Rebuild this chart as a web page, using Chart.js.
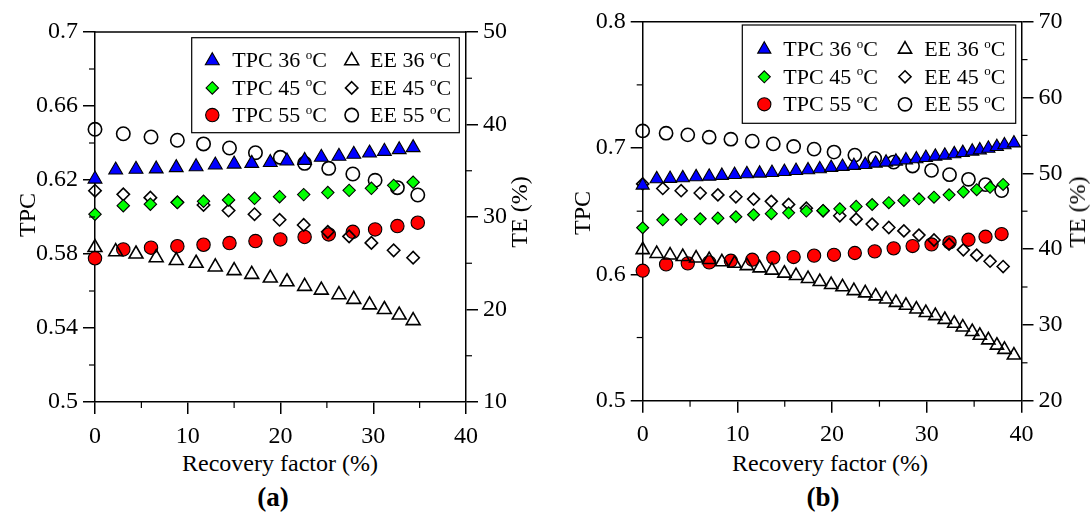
<!DOCTYPE html>
<html>
<head>
<meta charset="utf-8">
<script src="https://cdn.jsdelivr.net/npm/chart.js@4.4.1/dist/chart.umd.min.js"></script>
<style>
  html, body { margin:0; padding:0; background:#fff; }
  #wrap { position:relative; width:1091px; height:515px; overflow:hidden; font-family:"Liberation Serif","Times New Roman","Nimbus Roman",serif; color:#000; }
  canvas { position:absolute; top:0; }
  .t { position:absolute; white-space:nowrap; font-size:24px; line-height:1; transform:translate(-50%,-50%); }
  .rot { transform:translate(-50%,-50%) rotate(-90deg); }
  .lab { font-weight:bold; font-size:27px; }
</style>
</head>
<body>
<div id="wrap">
  <canvas id="ca" width="545" height="450" style="left:0px"></canvas>
  <canvas id="cb" width="546" height="450" style="left:545px"></canvas>
  <div class="t rot" style="left:27px;top:215px">TPC</div>
  <div class="t rot" style="left:519px;top:212px">TE (%)</div>
  <div class="t" style="left:280px;top:463px">Recovery factor (%)</div>
  <div class="t lab" style="left:273px;top:497px">(<span>a</span>)</div>
  <div class="t rot" style="left:582px;top:213px">TPC</div>
  <div class="t rot" style="left:1077px;top:212px">TE (%)</div>
  <div class="t" style="left:830px;top:463px">Recovery factor (%)</div>
  <div class="t lab" style="left:823px;top:497px">(<span>b</span>)</div>
</div>
<script>
// ---------------- Data: panel (a) ----------------
const xA36   = [0, 2.23, 4.42, 6.6, 8.76, 10.9, 12.97, 15.0, 16.9, 18.9, 20.7, 22.6, 24.4, 26.3, 27.9, 29.6, 31.2, 32.8, 34.3];
const tpcA36 = [0.6205, 0.6254, 0.6258, 0.626, 0.6267, 0.6272, 0.6281, 0.6286, 0.629, 0.6295, 0.6303, 0.6306, 0.6323, 0.6328, 0.6339, 0.6346, 0.6355, 0.6364, 0.6375];
const eeA36  = [26.7, 26.25, 26.0, 25.6, 25.3, 25.0, 24.6, 24.2, 23.8, 23.4, 23.0, 22.5, 22.1, 21.6, 21.1, 20.5, 20.0, 19.4, 18.8];
const xA45   = [0, 3.05, 5.97, 8.88, 11.7, 14.4, 17.2, 19.9, 22.5, 25.1, 27.4, 29.8, 32.2, 34.3];
const tpcA45 = [0.6015, 0.6061, 0.6069, 0.6079, 0.6085, 0.6092, 0.6101, 0.611, 0.6121, 0.6132, 0.6144, 0.6155, 0.6171, 0.6188];
const eeA45  = [32.84, 32.45, 32.09, 31.59, 31.3, 30.7, 30.3, 29.7, 29.14, 28.4, 27.9, 27.2, 26.4, 25.6];
const xA55   = [0, 3.05, 6.04, 8.88, 11.7, 14.5, 17.3, 19.98, 22.6, 25.2, 27.8, 30.2, 32.6, 34.8];
const tpcA55 = [0.5777, 0.5825, 0.5834, 0.5842, 0.585, 0.5859, 0.587, 0.5879, 0.5892, 0.5906, 0.592, 0.5933, 0.5951, 0.5969];
const eeA55  = [39.48, 39.0, 38.65, 38.3, 37.9, 37.46, 36.95, 36.45, 35.8, 35.26, 34.65, 33.97, 33.17, 32.38];

// ---------------- Data: panel (b) ----------------
const xB36   = [0, 1.48, 2.89, 4.23, 5.64, 7.02, 8.36, 9.7, 11.0, 12.35, 13.65, 14.96, 16.19, 17.46, 18.7, 19.9, 21.1, 22.3, 23.5, 24.6, 25.7, 26.74, 27.8, 28.9, 29.9, 30.9, 31.9, 32.9, 33.8, 34.8, 35.6, 36.5, 37.4, 38.2, 39.2];
const tpcB36 = [0.6705, 0.6755, 0.6758, 0.6763, 0.6771, 0.6776, 0.6782, 0.6789, 0.6795, 0.68, 0.6805, 0.6813, 0.6821, 0.6826, 0.6834, 0.6845, 0.6853, 0.6861, 0.6868, 0.6879, 0.6887, 0.6895, 0.6905, 0.6913, 0.6924, 0.6934, 0.6942, 0.6953, 0.6963, 0.6974, 0.6984, 0.6997, 0.701, 0.7024, 0.7039];
const eeB36  = [39.9, 39.4, 39.2, 39.0, 38.8, 38.6, 38.3, 38.1, 37.8, 37.5, 37.2, 36.8, 36.5, 36.1, 35.7, 35.3, 35.0, 34.5, 34.2, 33.8, 33.4, 32.95, 32.56, 32.07, 31.6, 31.2, 30.7, 30.2, 29.7, 29.1, 28.6, 28.0, 27.3, 26.75, 26.0];
const xB45   = [0, 2.12, 4.06, 6.07, 7.94, 9.84, 11.71, 13.58, 15.41, 17.28, 19.05, 20.81, 22.54, 24.23, 25.99, 27.58, 29.17, 30.76, 32.35, 33.86, 35.27, 36.68, 38.06];
const tpcB45 = [0.6369, 0.6432, 0.6435, 0.644, 0.6445, 0.6456, 0.6472, 0.648, 0.6487, 0.6501, 0.6505, 0.6519, 0.6538, 0.6553, 0.6567, 0.6585, 0.6598, 0.6611, 0.663, 0.6653, 0.667, 0.6689, 0.6712];
const eeB45  = [48.6, 48.0, 47.7, 47.4, 47.15, 46.9, 46.6, 46.3, 45.9, 45.4, 45.05, 44.4, 43.95, 43.3, 42.85, 42.4, 41.85, 41.2, 40.65, 39.9, 39.2, 38.4, 37.7];
const xB55   = [0, 2.47, 4.76, 7.02, 9.31, 11.57, 13.79, 15.94, 18.1, 20.2, 22.4, 24.5, 26.5, 28.5, 30.5, 32.4, 34.4, 36.2, 37.9];
const tpcB55 = [0.6029, 0.6079, 0.6087, 0.6095, 0.6108, 0.6116, 0.6132, 0.6137, 0.6148, 0.6155, 0.6169, 0.6182, 0.6206, 0.6224, 0.6237, 0.6253, 0.6274, 0.6298, 0.6319];
const eeB55  = [55.59, 55.29, 55.07, 54.76, 54.5, 54.24, 53.88, 53.54, 53.19, 52.8, 52.4, 51.97, 51.48, 50.96, 50.39, 49.82, 49.21, 48.5, 47.72];

// ---------------- Labels / ticks ----------------
const seriesLabels = ['TPC 36 ºC', 'EE 36 ºC', 'TPC 45 ºC', 'EE 45 ºC', 'TPC 55 ºC', 'EE 55 ºC'];
const xTicks = [0, 10, 20, 30, 40];
const tpcTicksA = [0.5, 0.54, 0.58, 0.62, 0.66, 0.7];
const teTicksA = [10, 20, 30, 40, 50];
const tpcTicksB = [0.5, 0.6, 0.7, 0.8];
const teTicksB = [20, 30, 40, 50, 60, 70];

const FONT = "'Liberation Serif', 'Times New Roman', 'Nimbus Roman', serif";

function pts(xs, ys) { return xs.map((x, i) => ({ x: x, y: ys[i] })); }

function makeDatasets(d, sz) {
  const filled = (label, data, color, style, r, axis) => ({
    label, data, yAxisID: axis, pointStyle: style, pointRadius: r, pointHoverRadius: r,
    backgroundColor: color, borderColor: '#000', borderWidth: 1.1, showLine: false, clip: false
  });
  const open = (label, data, style, r, axis) => ({
    label, data, yAxisID: axis, pointStyle: style, pointRadius: r, pointHoverRadius: r,
    backgroundColor: 'rgba(255,255,255,0)', borderColor: '#000', borderWidth: 1.6, showLine: false, clip: false
  });
  return [
    filled(seriesLabels[0], d.t36, '#0000ff', 'triangle', sz.tri, 'y'),
    open(seriesLabels[1], d.e36, 'triangle', sz.tri, 'y1'),
    filled(seriesLabels[2], d.t45, '#00ff00', 'rectRot', sz.dia, 'y'),
    open(seriesLabels[3], d.e45, 'rectRot', sz.dia, 'y1'),
    filled(seriesLabels[4], d.t55, '#ff0000', 'circle', sz.cir, 'y'),
    open(seriesLabels[5], d.e55, 'circle', sz.cir, 'y1')
  ];
}

// plugin: top frame + minor ticks
const axisDeco = {
  id: 'axisDeco',
  afterDraw(chart, args, o) {
    const ctx = chart.ctx, a = chart.chartArea;
    ctx.save();
    ctx.strokeStyle = '#000';
    ctx.lineWidth = 1.5;
    ctx.beginPath();
    ctx.moveTo(a.left - 0.75, a.top);
    ctx.lineTo(a.right + 0.75, a.top);
    ctx.stroke();
    ctx.lineWidth = 1.2;
    (o.minor || []).forEach(m => {
      const s = chart.scales[m.id];
      for (let k = 1; ; k += 2) {
        const v = s.min + m.step * k;
        if (v >= s.max - 1e-9) break;
        ctx.beginPath();
        const p = s.getPixelForValue(v);
        if (m.id === 'x') {
          ctx.moveTo(p, s.top); ctx.lineTo(p, s.top + 6);
        } else if (m.id === 'y') {
          ctx.moveTo(s.right, p); ctx.lineTo(s.right - 6, p);
        } else {
          ctx.moveTo(s.left, p); ctx.lineTo(s.left + 6, p);
        }
        ctx.stroke();
      }
    });
    ctx.restore();
  }
};

function drawMarker(ctx, style, r, x, y) {
  ctx.beginPath();
  if (style === 'circle') {
    ctx.arc(x, y, r, 0, Math.PI * 2);
  } else if (style === 'triangle') {
    for (let i = 0; i < 3; i++) {
      const ang = i * 2 * Math.PI / 3;
      const px = x + Math.sin(ang) * r, py = y - Math.cos(ang) * r;
      if (i === 0) ctx.moveTo(px, py); else ctx.lineTo(px, py);
    }
  } else {
    ctx.moveTo(x, y - r); ctx.lineTo(x + r, y); ctx.lineTo(x, y + r); ctx.lineTo(x - r, y);
  }
  ctx.closePath();
  ctx.fill();
  ctx.stroke();
}

// plugin: boxed two-column legend
const boxLegend = {
  id: 'boxLegend',
  afterDraw(chart, args, o) {
    const ctx = chart.ctx, a = chart.chartArea;
    const x0 = a.right - o.rightGap - o.width, y0 = a.top + o.topGap;
    ctx.save();
    ctx.fillStyle = '#fff';
    ctx.fillRect(x0, y0, o.width, o.height);
    ctx.strokeStyle = '#000';
    ctx.lineWidth = 1.2;
    ctx.strokeRect(x0, y0, o.width, o.height);
    chart.data.datasets.forEach((ds, i) => {
      const col = i % 2, row = Math.floor(i / 2);
      const cy = y0 + o.rowTop + row * o.rowGap;
      ctx.fillStyle = ds.backgroundColor;
      ctx.strokeStyle = ds.borderColor;
      ctx.lineWidth = ds.borderWidth;
      drawMarker(ctx, ds.pointStyle, ds.pointRadius, x0 + o.markerX[col], cy);
      const parts = ds.label.split('º');
      let tx = x0 + o.textX[col];
      ctx.fillStyle = '#000';
      ctx.textBaseline = 'middle';
      ctx.textAlign = 'left';
      ctx.font = '22px ' + FONT;
      ctx.fillText(parts[0], tx, cy + 1);
      tx += ctx.measureText(parts[0]).width;
      ctx.font = '13px ' + FONT;
      ctx.fillText('o', tx, cy - 5);
      tx += ctx.measureText('o').width;
      ctx.font = '22px ' + FONT;
      ctx.fillText(parts[1], tx, cy + 1);
    });
    ctx.restore();
  }
};

function buildChart(canvasId, d, cfg) {
  const tickFont = { family: FONT, size: 24 };
  const gridBase = { drawOnChartArea: false, drawTicks: true, tickLength: 12, color: '#000', lineWidth: 1.5 };
  const border = { display: true, color: '#000', width: 1.5 };
  return new Chart(document.getElementById(canvasId), {
    type: 'scatter',
    data: { datasets: makeDatasets(d, cfg.sizes) },
    options: {
      responsive: false,
      animation: false,
      events: [],
      layout: { padding: { top: cfg.top, left: 0, right: 0, bottom: 0 } },
      plugins: {
        legend: { display: false },
        tooltip: { enabled: false },
        axisDeco: { minor: cfg.minor },
        boxLegend: cfg.legend
      },
      scales: {
        x: {
          type: 'linear', position: 'bottom', min: 0, max: 40,
          afterBuildTicks: s => { s.ticks = xTicks.map(v => ({ value: v })); },
          ticks: { font: tickFont, color: '#000', padding: 8, callback: v => String(v), maxRotation: 0 },
          grid: gridBase, border: border,
          afterFit: s => { s.height = cfg.xHeight; }
        },
        y: {
          type: 'linear', position: 'left', min: cfg.yMin, max: cfg.yMax,
          afterBuildTicks: s => { s.ticks = cfg.yTicks.map(v => ({ value: v })); },
          ticks: { font: tickFont, color: '#000', padding: 5, callback: v => String(+v.toFixed(2)) },
          grid: gridBase, border: border,
          afterFit: s => { s.width = cfg.yWidth; }
        },
        y1: {
          type: 'linear', position: 'right', min: cfg.y1Min, max: cfg.y1Max,
          afterBuildTicks: s => { s.ticks = cfg.y1Ticks.map(v => ({ value: v })); },
          ticks: { font: tickFont, color: '#000', padding: 5, callback: v => String(v) },
          grid: gridBase, border: border,
          afterFit: s => { s.width = cfg.y1Width; }
        }
      }
    },
    plugins: [axisDeco, boxLegend]
  });
}

const charts = [];
charts.push(buildChart('ca', {
  t36: pts(xA36, tpcA36), e36: pts(xA36, eeA36),
  t45: pts(xA45, tpcA45), e45: pts(xA45, eeA45),
  t55: pts(xA55, tpcA55), e55: pts(xA55, eeA55)
}, {
  top: 32, yWidth: 95, y1Width: 79, xHeight: 48,
  yMin: 0.5, yMax: 0.7, yTicks: tpcTicksA,
  y1Min: 10, y1Max: 50, y1Ticks: teTicksA,
  sizes: { tri: 8, dia: 6.2, cir: 6.7 },
  minor: [{ id: 'x', step: 5 }, { id: 'y', step: 0.02 }, { id: 'y1', step: 5 }],
  legend: { width: 267.6, height: 95, rightGap: 6.7, topGap: 5.7, rowTop: 23, rowGap: 27.2,
            markerX: [20.6, 160], textX: [40.6, 178.3] }
}));

charts.push(buildChart('cb', {
  t36: pts(xB36, tpcB36), e36: pts(xB36, eeB36),
  t45: pts(xB45, tpcB45), e45: pts(xB45, eeB45),
  t55: pts(xB55, tpcB55), e55: pts(xB55, eeB55)
}, {
  top: 21.7, yWidth: 97.7, y1Width: 69.5, xHeight: 49.3,
  yMin: 0.5, yMax: 0.8, yTicks: tpcTicksB,
  y1Min: 20, y1Max: 70, y1Ticks: teTicksB,
  sizes: { tri: 7.6, dia: 6, cir: 6.6 },
  minor: [{ id: 'x', step: 5 }, { id: 'y', step: 0.05 }, { id: 'y1', step: 5 }],
  legend: { width: 273.4, height: 98.3, rightGap: 5.8, topGap: 3.3, rowTop: 24.3, rowGap: 27.5,
            markerX: [22, 162.7], textX: [41, 182] }
}));

if (document.fonts && document.fonts.load) {
  Promise.all([
    document.fonts.load('24px "Liberation Serif"'),
    document.fonts.load('bold 27px "Liberation Serif"'),
    document.fonts.load('13px "Liberation Serif"')
  ]).then(() => charts.forEach(c => c.update('none'))).catch(() => {});
}
</script>
</body>
</html>
